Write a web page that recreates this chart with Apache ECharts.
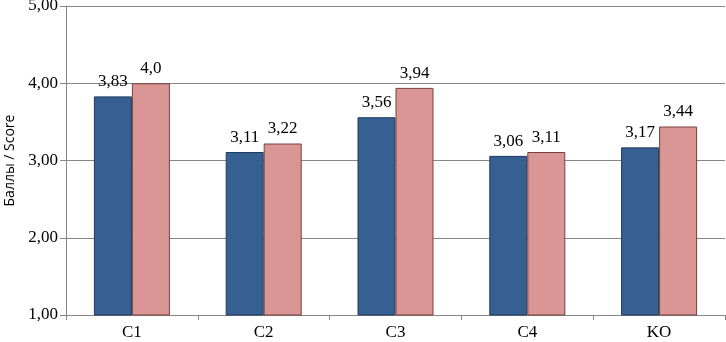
<!DOCTYPE html>
<html>
<head>
<meta charset="utf-8">
<script src="https://cdn.jsdelivr.net/npm/echarts@6/dist/echarts.min.js"></script>
<style>
  html, body { margin: 0; padding: 0; background: #fff; }
  #chart { width: 726px; height: 342px; }
</style>
</head>
<body>
<div id="chart"></div>
<script>
const categories = ['C1', 'C2', 'C3', 'C4', 'KO']
const seriesA = [3.83, 3.11, 3.56, 3.06, 3.17]
const seriesB = [4.0, 3.22, 3.94, 3.11, 3.44]
const labelsA = ['3,83', '3,11', '3,56', '3,06', '3,17']
const labelsB = ['4,0', '3,22', '3,94', '3,11', '3,44']
const yTicks = [1, 2, 3, 4, 5]

const serif = 'Liberation Serif'

const chart = echarts.init(document.getElementById('chart'))

const makeSeries = (values, labels, color, border) => ({
  type: 'bar',
  data: values,
  barWidth: 38,
  barGap: '0%',
  itemStyle: { color: color, borderColor: border, borderWidth: 1 },
  label: {
    show: true,
    position: 'top',
    distance: 6,
    fontFamily: serif,
    fontSize: 17,
    color: '#000',
    formatter: (p) => labels[p.dataIndex]
  }
})

chart.setOption({
  animation: false,
  grid: { left: 66, right: 1, top: 6, bottom: 27, containLabel: false, outerBoundsMode: 'none' },
  xAxis: {
    type: 'category',
    data: categories,
    axisLine: { lineStyle: { color: '#868686' } },
    axisTick: { show: true, length: 5, lineStyle: { color: '#868686' } },
    axisLabel: { fontFamily: serif, fontSize: 17, color: '#000', margin: 9 }
  },
  yAxis: {
    type: 'value',
    min: yTicks[0],
    max: yTicks[yTicks.length - 1],
    interval: 1,
    name: 'Баллы / Score',
    nameLocation: 'middle',
    nameGap: 49,
    nameTextStyle: { fontFamily: 'Open Sans', fontSize: 14, color: '#000' },
    axisLine: { show: true, lineStyle: { color: '#868686' } },
    axisTick: { show: true, length: 6, lineStyle: { color: '#868686' } },
    axisLabel: {
      fontFamily: serif,
      fontSize: 17,
      color: '#000',
      margin: 8,
      formatter: (v) => v.toFixed(2).replace('.', ',')
    },
    splitLine: { lineStyle: { color: '#868686', width: 1 } }
  },
  series: [
    makeSeries(seriesA, labelsA, '#376092', '#1f3a5f'),
    makeSeries(seriesB, labelsB, '#d99694', '#7a3f3d')
  ]
})
</script>
</body>
</html>
